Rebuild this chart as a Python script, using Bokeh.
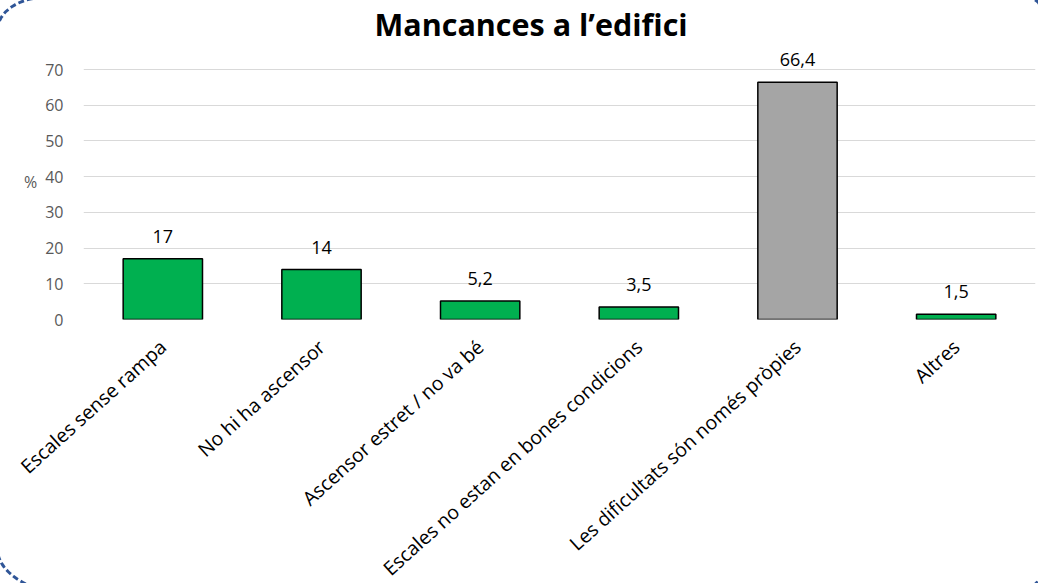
from bokeh.plotting import figure
from bokeh.models import ColumnDataSource, FixedTicker, Range1d, FactorRange, LabelSet
from bokeh.core.properties import value
from bokeh.embed import file_html
from bokeh.resources import INLINE
import math

categories = ["Escales sense rampa", "No hi ha ascensor", "Ascensor estret / no va bé",
              "Escales no estan en bones condicions", "Les dificultats són només pròpies", "Altres"]
values = [17, 14, 5.2, 3.5, 66.4, 1.5]
bar_colors = ["#00B050", "#00B050", "#00B050", "#00B050", "#A5A5A5", "#00B050"]
y_ticks = [0, 10, 20, 30, 40, 50, 60, 70]
title_text = "Mancances a l’edifici"
y_label = "%"

labels = [f"{v:g}".replace(".", ",") for v in values]
source = ColumnDataSource(dict(cat=categories, val=values, color=bar_colors, lab=labels))

FONT = "Open Sans"

p = figure(frame_width=952, frame_height=275, output_backend="svg", toolbar_location=None,
           x_range=FactorRange(*categories, range_padding=0), y_range=Range1d(0, 77),
           min_border_left=83, min_border_right=3, min_border_top=44, min_border_bottom=264)
p.background_fill_color = "white"
p.border_fill_color = None
p.outline_line_color = None
p.styles = {"outline": "3px dashed #2F5597", "outline-offset": "1px",
            "background-color": "white",
            "border-top-left-radius": "45px 30px",
            "border-top-right-radius": "12px 8px",
            "border-bottom-left-radius": "85px 45px",
            "border-bottom-right-radius": "48px 20px"}

p.vbar(x="cat", top="val", width=0.5, source=source, fill_color="color",
       line_color="black", line_width=1.5)

p.add_layout(LabelSet(x="cat", y="val", text="lab", source=source, text_align="center",
                      text_baseline="alphabetic", y_offset=16, text_font_size="18px",
                      text_font=value(FONT), text_color="#000000"))

# title
p.title.text = title_text
p.title.align = "left"
p.title.offset = 291
p.title.text_font = FONT
p.title.text_font_size = "30.5px"
p.title.text_font_style = "bold"
p.title.text_color = "#000000"
p.title.standoff = 0

# y axis
p.yaxis.ticker = FixedTicker(ticks=y_ticks)
p.yaxis.axis_line_color = None
p.yaxis.major_tick_line_color = None
p.yaxis.minor_tick_line_color = None
p.yaxis.major_tick_out = 0
p.yaxis.major_label_standoff = 20
p.yaxis.major_label_text_font = FONT
p.yaxis.major_label_text_font_size = "16px"
p.yaxis.major_label_text_color = "#595959"
p.yaxis.axis_label = y_label
p.yaxis.axis_label_orientation = "horizontal"
p.yaxis.axis_label_text_font = FONT
p.yaxis.axis_label_text_font_style = "normal"
p.yaxis.axis_label_text_font_size = "16px"
p.yaxis.axis_label_text_color = "#595959"
p.yaxis.axis_label_standoff = 5

# x axis
p.xaxis.axis_line_color = None
p.xaxis.major_tick_line_color = None
p.xaxis.major_tick_out = 0
p.xaxis.major_label_orientation = math.radians(42)
p.xaxis.major_label_standoff = 24
p.xaxis.major_label_text_font = FONT
p.xaxis.major_label_text_font_size = "19.5px"
p.xaxis.major_label_text_color = "#000000"

p.xgrid.grid_line_color = None
p.ygrid.grid_line_color = "#D9D9D9"
p.ygrid.grid_line_width = 1

open("out.html", "w").write(file_html(p, INLINE))
